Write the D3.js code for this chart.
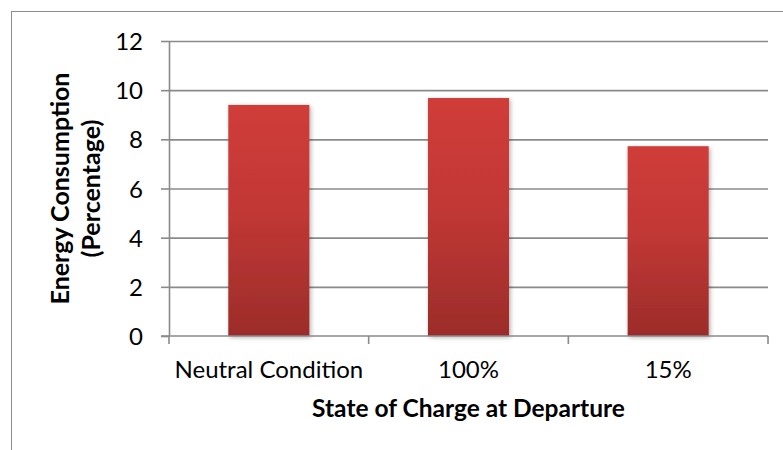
<!DOCTYPE html>
<html>
<head>
<meta charset="utf-8">
<script src="https://cdn.jsdelivr.net/npm/d3@7"></script>
<style>
  html, body { margin: 0; padding: 0; background: #fff; }
  svg { display: block; }
  text { font-family: Lato, "Open Sans", sans-serif; fill: #000; }
</style>
</head>
<body>
<svg id="chart" width="783" height="450"></svg>
<script>
const categories = ["Neutral Condition", "100%", "15%"];
const values = [9.40, 9.68, 7.72];
const yTicks = [0, 2, 4, 6, 8, 10, 12];
const xTitle = "State of Charge at Departure";
const yTitleLines = ["Energy Consumption", "(Percentage)"];

const svg = d3.select("#chart");
const W = 783, H = 450;
const plot = { left: 169, right: 768, top: 41, bottom: 336 };

// outer chart border
svg.append("rect")
  .attr("x", 11.5).attr("y", 11.5)
  .attr("width", W + 20).attr("height", H + 20)
  .attr("fill", "#fff").attr("stroke", "#8c8c8c").attr("stroke-width", 1);

const defs = svg.append("defs");
const grad = defs.append("linearGradient").attr("id", "barGrad")
  .attr("x1", 0).attr("y1", 0).attr("x2", 0).attr("y2", 1);
grad.append("stop").attr("offset", "0%").attr("stop-color", "#d03c39");
grad.append("stop").attr("offset", "45%").attr("stop-color", "#c23835");
grad.append("stop").attr("offset", "100%").attr("stop-color", "#9c2c2a");

const shadow = defs.append("filter").attr("id", "shadow")
  .attr("x", "-20%").attr("y", "-10%").attr("width", "150%").attr("height", "130%");
shadow.append("feDropShadow").attr("dx", 1.5).attr("dy", 1.5)
  .attr("stdDeviation", 2.2).attr("flood-color", "#000").attr("flood-opacity", 0.3);

const x = d3.scaleBand().domain(categories)
  .range([plot.left, plot.right])
  .paddingInner(0.594).paddingOuter(0.297);
const xCat = d3.scaleBand().domain(categories)
  .range([plot.left, plot.right]).padding(0);
const y = d3.scaleLinear().domain([0, 12]).range([plot.bottom, plot.top]);

// gridlines
const grid = svg.append("g")
  .attr("transform", `translate(${plot.left},0)`)
  .call(d3.axisLeft(y).tickValues(yTicks.filter(d => d > 0))
    .tickSize(-(plot.right - plot.left)).tickFormat(""));
grid.select(".domain").remove();
grid.selectAll(".tick line").attr("stroke", "#8a8a8a").attr("stroke-width", 1.6);

// y axis
const yAxis = svg.append("g")
  .attr("transform", `translate(${plot.left},0)`)
  .call(d3.axisLeft(y).tickValues(yTicks).tickSize(8).tickPadding(18));
yAxis.select(".domain").attr("stroke", "#8a8a8a").attr("stroke-width", 1.6)
  .attr("d", `M0.5,${plot.top}V${plot.bottom}`);
yAxis.selectAll(".tick line").attr("stroke", "#8a8a8a").attr("stroke-width", 1.6);
yAxis.selectAll(".tick text").attr("font-size", 24).attr("dy", "0.36em")
  .style("font-family", "Lato, sans-serif").attr("fill", "#000");

// bars
svg.append("g").selectAll("rect").data(categories).join("rect")
  .attr("x", d => x(d))
  .attr("y", (d, i) => y(values[i]))
  .attr("width", x.bandwidth())
  .attr("height", (d, i) => y(0) - y(values[i]))
  .attr("fill", "url(#barGrad)")
  .attr("filter", "url(#shadow)");

// x axis
const xAxis = svg.append("g")
  .attr("transform", `translate(0,${plot.bottom})`)
  .call(d3.axisBottom(xCat).tickSize(0).tickPadding(0));
xAxis.select(".domain").remove();
xAxis.append("line")
  .attr("x1", plot.left - 8).attr("x2", plot.right)
  .attr("y1", 0).attr("y2", 0)
  .attr("stroke", "#8a8a8a").attr("stroke-width", 1.6);
xAxis.selectAll(".tick text").attr("font-size", 24).attr("y", 42).attr("dy", 0)
  .style("font-family", "Lato, sans-serif").attr("fill", "#000");
const bounds = categories.map(c => xCat(c)).concat([plot.right]);
xAxis.selectAll("line.bound").data(bounds).join("line").attr("class", "bound")
  .attr("x1", d => d).attr("x2", d => d).attr("y1", 0).attr("y2", 8)
  .attr("stroke", "#8a8a8a").attr("stroke-width", 1.6);

// axis titles
svg.append("text")
  .attr("x", (plot.left + plot.right) / 2).attr("y", 417)
  .attr("text-anchor", "middle").attr("font-size", 24.5).attr("font-weight", 700)
  .text(xTitle);

svg.selectAll("text.ytitle").data(yTitleLines).join("text").attr("class", "ytitle")
  .attr("transform", (d, i) => `translate(${69 + i * 31},${(plot.top + plot.bottom) / 2}) rotate(-90)`)
  .attr("text-anchor", "middle").attr("font-size", 25).attr("font-weight", 700)
  .text(d => d);
</script>
</body>
</html>
